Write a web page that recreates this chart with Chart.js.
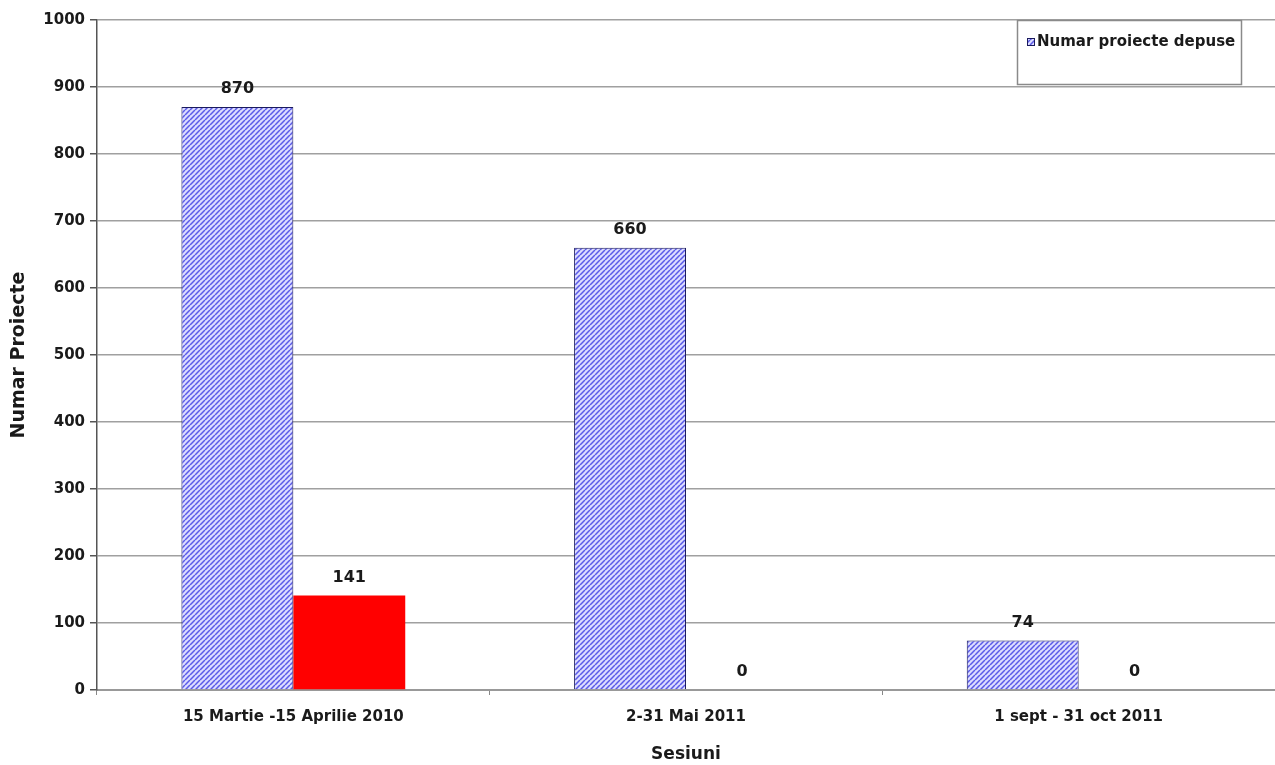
<!DOCTYPE html>
<html>
<head>
<meta charset="utf-8">
<script src="https://cdn.jsdelivr.net/npm/chart.js@4.4.1/dist/chart.umd.min.js"></script>
<style>
    html, body { margin: 0; padding: 0; background: #fff; }
    #wrap { width: 1275px; height: 765px; }
</style>
</head>
<body>
<div id="wrap"><canvas id="chart" width="1275" height="765"></canvas></div>
<script>
// Chart data
var sessions = ['15 Martie -15 Aprilie 2010', '2-31 Mai 2011', '1 sept - 31 oct 2011'];
var submitted = [870, 660, 74];
var second = [141, 0, 0];
var yTicks = [0, 100, 200, 300, 400, 500, 600, 700, 800, 900, 1000];

var FONT = '"DejaVu Sans", Verdana, sans-serif';
var TEXT = '#1a1a1a';

// Diagonal hatch pattern for the blue bars
function makeHatch() {
    var c = document.createElement('canvas');
    c.width = 5; c.height = 5;
    var g = c.getContext('2d');
    g.fillStyle = '#dcdcff';
    g.fillRect(0, 0, 5, 5);
    g.strokeStyle = '#5a5ae8';
    g.lineWidth = 1.5;
    g.beginPath();
    for (var k = -5; k <= 10; k += 5) {
        g.moveTo(k, 5);
        g.lineTo(k + 5, 0);
    }
    g.stroke();
    return g.createPattern(c, 'repeat');
}

var hatch = makeHatch();

// Value labels above each bar
var valueLabels = {
    id: 'valueLabels',
    afterDatasetsDraw: function (chart) {
        var ctx = chart.ctx;
        ctx.save();
        ctx.font = 'bold 16px ' + FONT;
        ctx.fillStyle = TEXT;
        ctx.textAlign = 'center';
        ctx.textBaseline = 'middle';
        chart.data.datasets.forEach(function (ds, i) {
            chart.getDatasetMeta(i).data.forEach(function (bar, j) {
                ctx.fillText(String(ds.data[j]), bar.x, bar.y - 18);
            });
        });
        ctx.restore();
    }
};

// Legend box drawn inside the plot area, top right
var boxLegend = {
    id: 'boxLegend',
    afterDraw: function (chart) {
        var ctx = chart.ctx;
        var area = chart.chartArea;
        var x = area.right - 258, y = area.top, w = 224, h = 64;
        ctx.save();
        ctx.fillStyle = '#fff';
        ctx.fillRect(x, y, w, h);
        ctx.strokeStyle = '#8a8a8a';
        ctx.lineWidth = 1.5;
        ctx.strokeRect(x + 0.5, y + 0.5, w, h);
        ctx.fillStyle = hatch;
        ctx.fillRect(x + 10, y + 18, 8, 8);
        ctx.strokeStyle = '#1a1a5e';
        ctx.lineWidth = 1;
        ctx.strokeRect(x + 10.5, y + 18.5, 7, 7);
        ctx.font = 'bold 15px ' + FONT;
        ctx.fillStyle = TEXT;
        ctx.textBaseline = 'middle';
        ctx.fillText(chart.data.datasets[0].label, x + 20, y + 22);
        ctx.restore();
    }
};

new Chart(document.getElementById('chart'), {
    type: 'bar',
    data: {
        labels: sessions,
        datasets: [{
            label: 'Numar proiecte depuse',
            data: submitted,
            backgroundColor: hatch,
            borderColor: '#1a1a5e',
            borderWidth: 1,
            borderSkipped: 'bottom'
        }, {
            label: 'Numar proiecte aprobate',
            data: second,
            backgroundColor: '#ff0000',
            borderColor: '#ff0000',
            borderWidth: 0
        }]
    },
    options: {
        responsive: false,
        animation: false,
        layout: { padding: { top: 20, right: 0, left: 8, bottom: 0 } },
        datasets: { bar: { barPercentage: 1, categoryPercentage: 0.57 } },
        plugins: {
            legend: { display: false },
            tooltip: { enabled: false }
        },
        scales: {
            x: {
                offset: true,
                grid: {
                    offset: true,
                    drawOnChartArea: false,
                    color: '#888',
                    tickLength: 5
                },
                border: { color: '#999', width: 2 },
                ticks: {
                    color: TEXT,
                    font: { family: FONT, size: 15, weight: 'bold' },
                    padding: 13,
                    maxRotation: 0
                },
                title: {
                    display: true,
                    text: 'Sesiuni',
                    color: TEXT,
                    font: { family: FONT, size: 17, weight: 'bold' },
                    padding: { top: 14, bottom: 0 }
                },
                afterFit: function (s) { s.height = 75; }
            },
            y: {
                min: 0,
                max: 1000,
                afterBuildTicks: function (s) {
                    s.ticks = yTicks.map(function (v) { return { value: v }; });
                },
                grid: {
                    color: '#a0a0a0',
                    lineWidth: 1.5,
                    tickColor: '#555',
                    tickLength: 7
                },
                border: { color: '#555', width: 1.5 },
                ticks: {
                    color: TEXT,
                    font: { family: FONT, size: 15, weight: 'bold' },
                    padding: 5,
                    callback: function (v) { return String(v); }
                },
                title: {
                    display: true,
                    text: 'Numar Proiecte',
                    color: TEXT,
                    font: { family: FONT, size: 19, weight: 'bold' },
                    padding: { top: 0, bottom: 20 }
                },
                afterFit: function (s) { s.width = 89; }
            }
        }
    },
    plugins: [valueLabels, boxLegend]
});
</script>
</body>
</html>
